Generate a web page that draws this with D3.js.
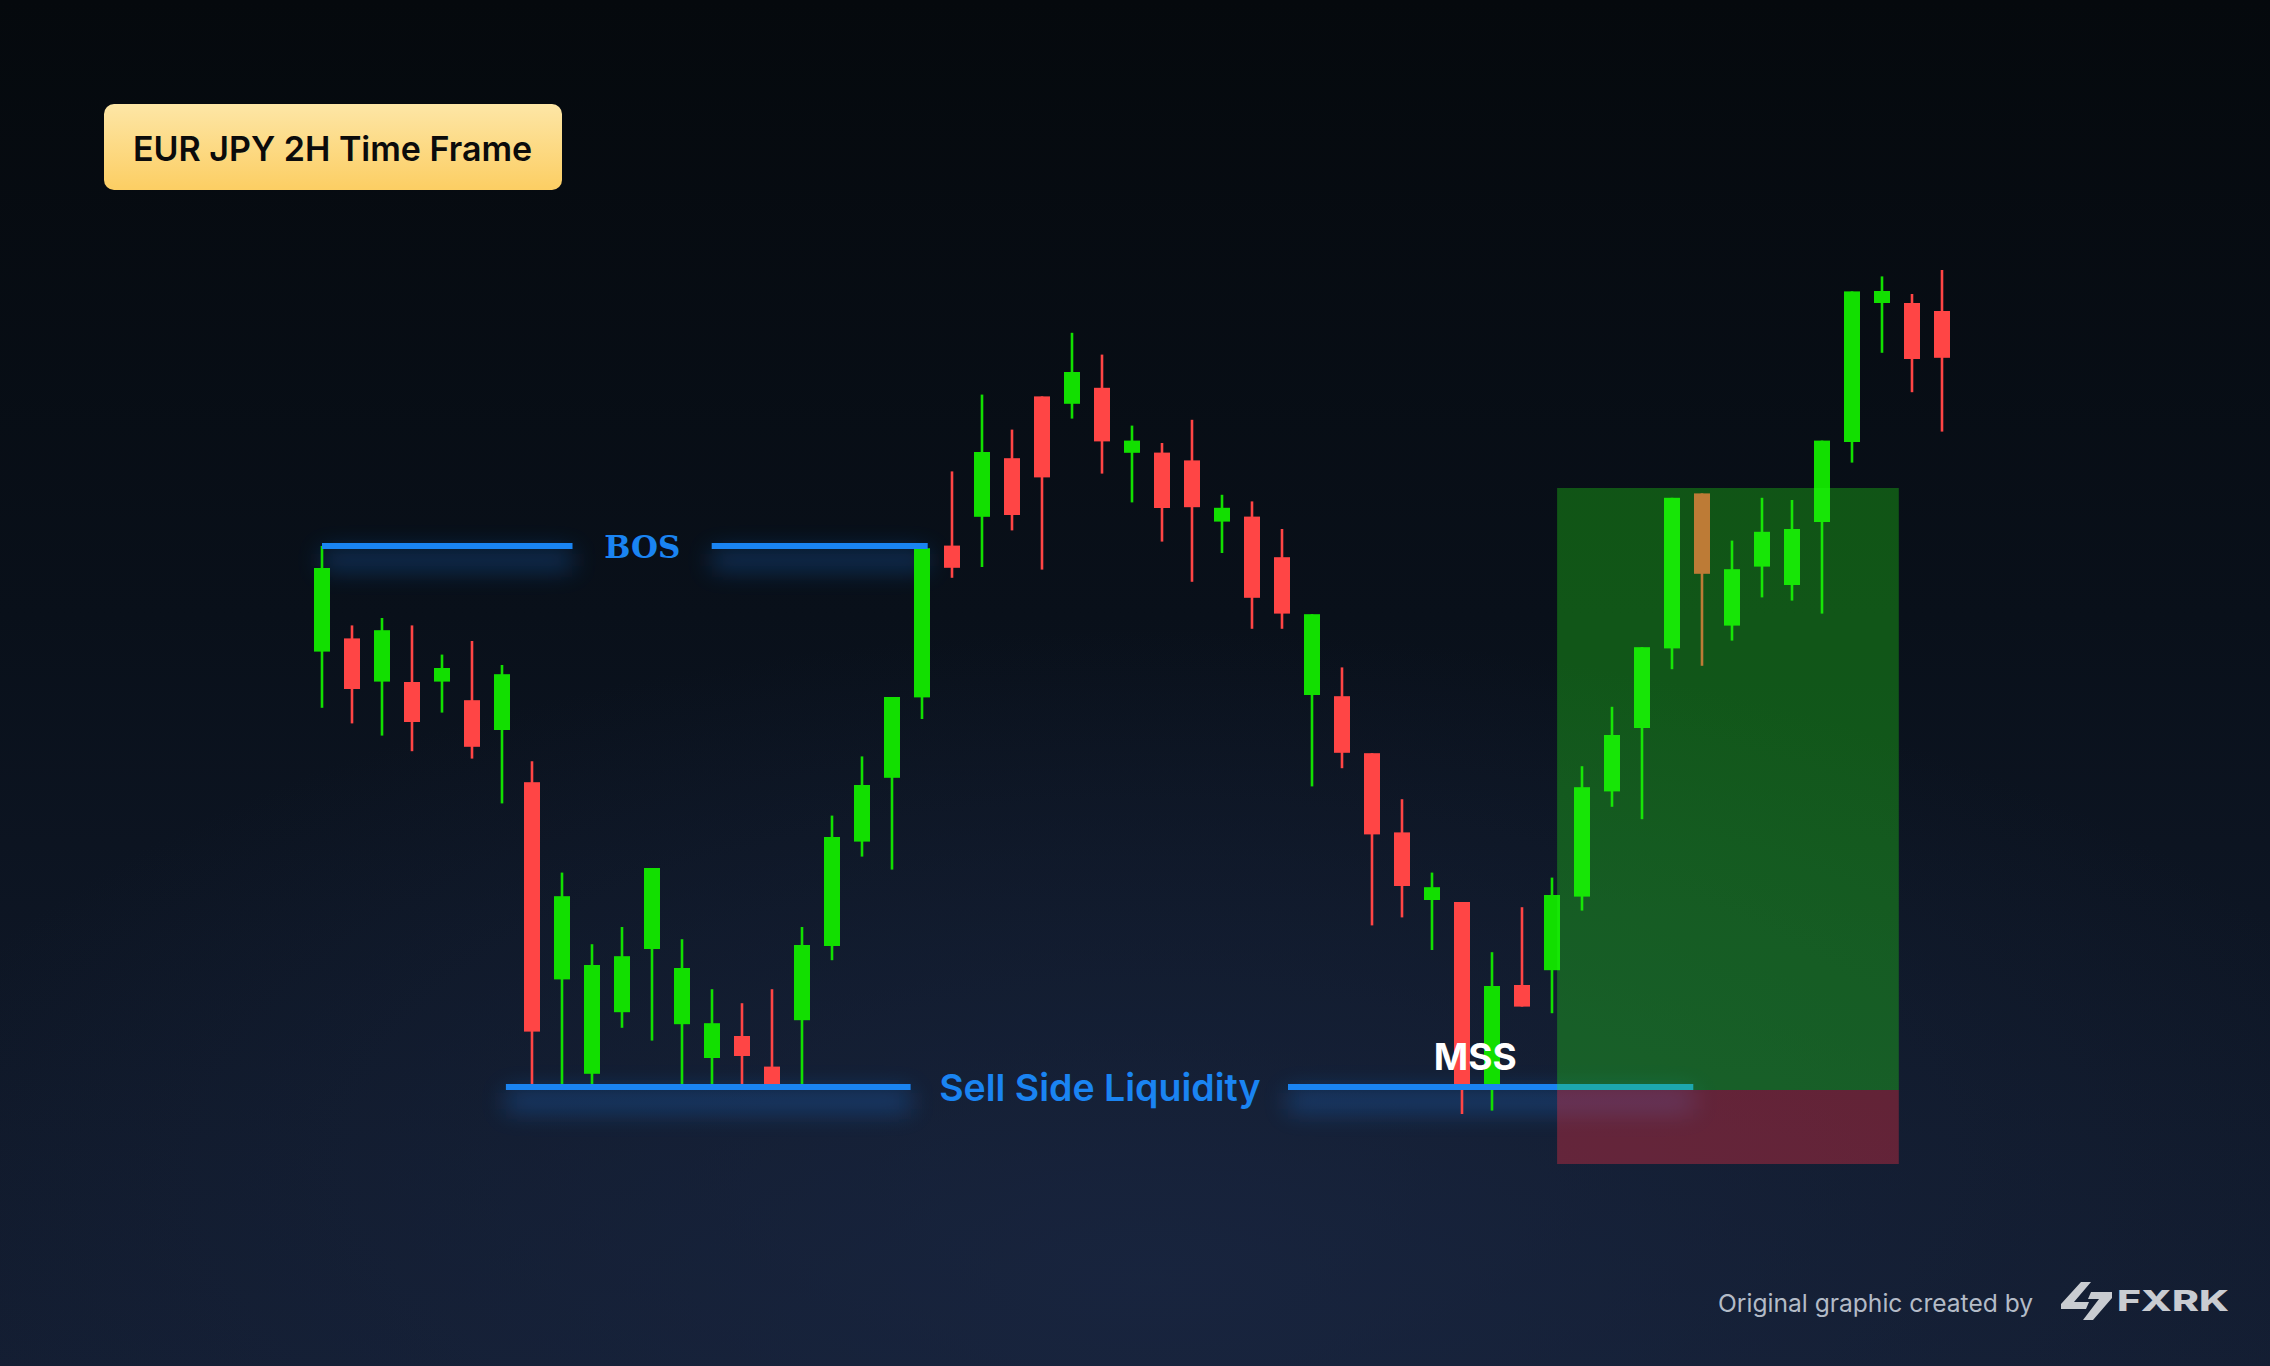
<!DOCTYPE html>
<html><head><meta charset="utf-8">
<script src="https://cdn.jsdelivr.net/npm/d3@7"></script>
<style>html,body{margin:0;padding:0;background:#070c12;overflow:hidden}svg{display:block}</style>
</head><body><svg id="chart"></svg>
<script>
// ---- data (EUR/JPY 2H candles) ----
const opens  = [157.167,157.233,157.017,157.015,157.017,156.924,156.775,156.514,155.528,155.056,
                155.364,155.680,155.304,155.135,155.245,155.092,155.324,155.695,156.217,156.536,
                156.938,157.697,157.841,158.134,158.443,158.406,158.486,158.161,158.162,158.123,
                157.817,157.842,157.639,156.950,156.944,156.659,156.263,155.925,155.915,155.005,
                155.500,155.574,155.942,156.468,156.785,157.183,157.958,157.297,157.592,157.500,
                157.815,158.215,158.910,158.910,158.870];
const highs  = [157.695,157.298,157.335,157.298,157.152,157.220,157.100,156.619,156.062,155.704,
                155.790,156.085,155.729,155.479,155.409,155.479,155.790,156.347,156.643,156.940,
                157.695,158.068,158.452,158.277,158.443,158.761,158.652,158.297,158.210,158.326,
                157.951,157.918,157.780,157.354,157.088,156.659,156.429,156.062,155.915,155.664,
                155.889,156.037,156.594,156.891,157.189,157.936,157.958,157.722,157.936,157.925,
                158.222,158.968,159.043,158.955,159.075];
const lows   = [156.886,156.808,156.747,156.669,156.862,156.632,156.408,155.000,155.000,155.000,
                155.286,155.222,155.000,155.000,155.000,155.000,155.000,155.624,156.142,156.077,
                156.830,157.536,157.590,157.773,157.577,158.332,158.057,157.913,157.717,157.516,
                157.660,157.281,157.281,156.493,156.584,155.798,155.838,155.675,154.855,154.872,
                155.392,155.359,155.872,156.391,156.329,157.079,157.096,157.222,157.438,157.422,
                157.357,158.112,158.661,158.464,158.267];
const closes = [157.585,156.980,157.274,156.815,157.085,156.691,157.054,155.267,155.944,155.600,
                155.644,156.085,155.585,155.309,155.145,155.000,155.700,156.240,156.500,156.940,
                157.684,157.586,158.165,157.850,158.038,158.565,158.218,158.222,157.885,157.889,
                157.886,157.436,157.357,157.354,156.661,156.253,155.995,155.989,155.005,155.495,
                155.392,155.950,156.489,156.750,157.189,157.936,157.556,157.579,157.766,157.780,
                158.222,158.968,158.970,158.630,158.636];

// annotation levels (price) and spans (bar index)
const bosLevel = 157.695;
const bosSegments = [[0, 8.35], [12.99, 20.19]];
const bosLabel = {text: "BOS", at: 10.68};
const sslLevel = 154.99;
const sslSegments = [[6.13, 19.62], [32.2, 45.71]];
const sslLabel = {text: "Sell Side Liquidity", at: 25.93};
const mssLabel = {text: "MSS", at: 38.44, price: 155.075};
const zoneSpan = [41.17, 52.56];
const targetZone = [154.975, 157.985];
const stopZone = [154.605, 154.975];
const titleText = "EUR JPY 2H Time Frame";
const creditText = "Original graphic created by";
const brandText = "FXRK";

// ---- setup ----
const W = 2270, H = 1366;
const svg = d3.select("#chart").attr("width", W).attr("height", H);
const defs = svg.append("defs");

const bg = defs.append("linearGradient").attr("id","bg").attr("x1",0).attr("y1",0).attr("x2",0).attr("y2",1);
[[0,"#05090d"],[0.45,"#09101a"],[1,"#131d31"]].forEach(s=>bg.append("stop").attr("offset",s[0]).attr("stop-color",s[1]));
const rg = defs.append("radialGradient").attr("id","rg").attr("cx",0.5).attr("cy",0.5).attr("r",0.5);
[[0,"#1a2743",0.75],[1,"#1a2743",0]].forEach(s=>rg.append("stop").attr("offset",s[0]).attr("stop-color",s[1]).attr("stop-opacity",s[2]));
const tg = defs.append("linearGradient").attr("id","tg").attr("x1",0).attr("y1",0).attr("x2",0).attr("y2",1);
[[0,"#fde6a6"],[1,"#fcce63"]].forEach(s=>tg.append("stop").attr("offset",s[0]).attr("stop-color",s[1]));
defs.append("filter").attr("id","blur").attr("x","-20%").attr("y","-300%").attr("width","140%").attr("height","700%")
  .append("feGaussianBlur").attr("stdDeviation", 12);

svg.append("rect").attr("width",W).attr("height",H).attr("fill","url(#bg)");
svg.append("ellipse").attr("cx",1150).attr("cy",1280).attr("rx",1350).attr("ry",650).attr("fill","url(#rg)");

const x = d3.scaleLinear().domain([0, 54]).range([322, 1942]);
const y = d3.scaleLinear().domain([155, 159.075]).range([1085, 270]);

const GREEN = "#12df00", RED = "#ff4545", BLUE = "#1a84f2";
const candles = opens.map((o,i)=>({i, o, h:highs[i], l:lows[i], c:closes[i]}));

// glows behind lines
const glow = svg.append("g").attr("filter","url(#blur)").attr("opacity",0.4);
bosSegments.forEach(s=>glow.append("line")
  .attr("x1",x(s[0])).attr("x2",x(s[1])).attr("y1",y(bosLevel)+14).attr("y2",y(bosLevel)+14)
  .attr("stroke","#1d6fd0").attr("stroke-width",18));
sslSegments.forEach(s=>glow.append("line")
  .attr("x1",x(s[0])).attr("x2",x(s[1])).attr("y1",y(sslLevel)+14).attr("y2",y(sslLevel)+14)
  .attr("stroke","#1d6fd0").attr("stroke-width",20));

// candles
const g = svg.append("g");
const cg = g.selectAll("g.c").data(candles).join("g")
  .attr("fill", d=>d.c>=d.o?GREEN:RED).attr("stroke", d=>d.c>=d.o?GREEN:RED);
cg.append("line").attr("x1",d=>x(d.i)).attr("x2",d=>x(d.i))
  .attr("y1",d=>y(d.h)).attr("y2",d=>y(d.l)).attr("stroke-width",2.6);
cg.append("rect").attr("stroke","none")
  .attr("x",d=>x(d.i)-8).attr("width",16)
  .attr("y",d=>y(Math.max(d.o,d.c)))
  .attr("height",d=>Math.max(2, Math.abs(y(d.o)-y(d.c))));

// BOS
bosSegments.forEach(s=>svg.append("line")
  .attr("x1",x(s[0])).attr("x2",x(s[1])).attr("y1",y(bosLevel)).attr("y2",y(bosLevel))
  .attr("stroke",BLUE).attr("stroke-width",6));
svg.append("text").attr("x",x(bosLabel.at)).attr("y",y(bosLevel)+12)
  .attr("text-anchor","middle").attr("font-family","'DejaVu Serif'").attr("font-weight","bold")
  .attr("font-size",31).attr("fill",BLUE).text(bosLabel.text);

// SSL
sslSegments.forEach(s=>svg.append("line")
  .attr("x1",x(s[0])).attr("x2",x(s[1])).attr("y1",y(sslLevel)).attr("y2",y(sslLevel))
  .attr("stroke",BLUE).attr("stroke-width",6));
svg.append("text").attr("x",x(sslLabel.at)).attr("y",y(sslLevel)+13.5)
  .attr("text-anchor","middle").attr("font-family","Inter").attr("font-weight",600)
  .attr("font-size",37.5).attr("fill",BLUE).text(sslLabel.text);

// zones (translucent, drawn over)
svg.append("rect").attr("x",x(zoneSpan[0])).attr("width",x(zoneSpan[1])-x(zoneSpan[0]))
  .attr("y",y(targetZone[1])).attr("height",y(targetZone[0])-y(targetZone[1]))
  .attr("fill","rgb(38,250,19)").attr("opacity",0.3);
svg.append("rect").attr("x",x(zoneSpan[0])).attr("width",x(zoneSpan[1])-x(zoneSpan[0]))
  .attr("y",y(stopZone[1])).attr("height",y(stopZone[0])-y(stopZone[1]))
  .attr("fill","rgb(248,49,69)").attr("opacity",0.35);

// MSS
svg.append("text").attr("x",x(mssLabel.at)).attr("y",y(mssLabel.price))
  .attr("text-anchor","middle").attr("font-family","Inter").attr("font-weight",700)
  .attr("font-size",37).attr("fill","#ffffff").text(mssLabel.text);

// title badge
svg.append("rect").attr("x",104).attr("y",104).attr("width",458).attr("height",86).attr("rx",10)
  .attr("fill","url(#tg)");
svg.append("text").attr("x",133).attr("y",160.5).attr("font-family","Inter").attr("font-weight",600)
  .attr("font-size",34).attr("fill","#0b0b0b").text(titleText);

// credit
svg.append("text").attr("x",1718).attr("y",1311.5).attr("font-family","Inter").attr("font-weight",400)
  .attr("font-size",24.6).attr("fill","#b3bbc7").text(creditText);
const logo = svg.append("g").attr("fill","#c9ccd1");
logo.append("path").attr("d","M2081,1282 L2091,1282 L2074,1302 L2089,1302 L2086,1309 L2061,1309 L2061,1304 Z");
logo.append("path").attr("d","M2091,1292 L2112,1292 L2112,1298 L2093,1320 L2083,1320 L2099,1299 L2088,1299 Z");
svg.append("text").attr("x",2117).attr("y",1311).attr("font-family","Inter").attr("font-weight",800)
  .attr("font-size",29).attr("textLength",112).attr("lengthAdjust","spacingAndGlyphs")
  .attr("fill","#c9ccd1").text(brandText);
</script></body></html>
